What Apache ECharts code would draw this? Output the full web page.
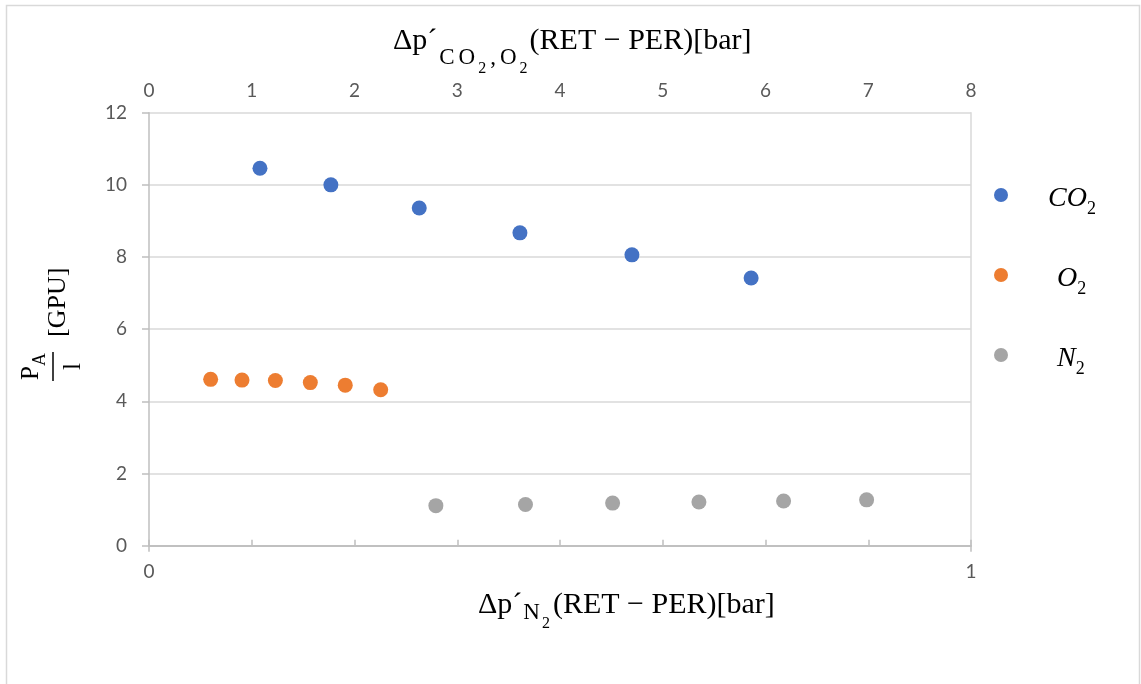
<!DOCTYPE html>
<html>
<head>
<meta charset="utf-8">
<script src="https://cdn.jsdelivr.net/npm/echarts@6/dist/echarts.min.js"></script>
<style>
html,body{margin:0;padding:0;background:#fff;}
#c{width:1141px;height:684px;}
</style>
</head>
<body>
<div id="c"></div>
<script>
// ---- data ----
const seriesNames = ['CO2', 'O2', 'N2'];
const co2X = [1.08, 1.77, 2.63, 3.61, 4.70, 5.86];
const co2Y = [10.46, 10.00, 9.36, 8.67, 8.06, 7.42];
const o2X = [0.60, 0.905, 1.23, 1.57, 1.91, 2.255];
const o2Y = [4.61, 4.59, 4.58, 4.52, 4.45, 4.32];
const n2X = [0.349, 0.458, 0.564, 0.669, 0.772, 0.873];
const n2Y = [1.11, 1.14, 1.18, 1.21, 1.24, 1.27];
const topAxisRange = [0, 8];
const bottomAxisRange = [0, 1];
const yAxisRange = [0, 12];

const colors = ['#4472C4', '#ED7D31', '#A5A5A5'];
const serif = '"Liberation Serif", "DejaVu Serif", serif';
const sans = 'Lato, "Open Sans", sans-serif';
const labelColor = '#595959';

function pairs(xs, ys) { return xs.map((x, i) => [x, ys[i]]); }

const chart = echarts.init(document.getElementById('c'), null, {renderer: 'canvas'});

function tok(size, h, pad) {
  const o = {fontFamily: serif, fontSize: size, fontWeight: 'normal', color: '#000', height: h, verticalAlign: 'top'};
  if (pad) o.padding = pad;
  return o;
}
const titleRich = {
  m: tok(30, 30),
  a: tok(30, 30),
  s: tok(23, 64, [0, 2, 0, 2]),
  ss: tok(16, 86, [0, 2, 0, 1])
};
const titleRich2 = {
  m: tok(30, 30),
  a: tok(30, 30),
  s: tok(23, 46, [0, 1, 0, 1]),
  ss: tok(16, 68, [0, 3, 0, 1])
};

const legendRich = {
  p: {width: 35, height: 80, lineHeight: 80},
  q: {width: 44, height: 80, lineHeight: 80},
  i: {fontFamily: serif, fontStyle: 'italic', fontWeight: 'normal', fontSize: 28, color: '#000', height: 73, verticalAlign: 'bottom'},
  s: {fontFamily: serif, fontWeight: 'normal', fontSize: 18, color: '#000', height: 52, verticalAlign: 'bottom'}
};

const option = {
  animation: false,
  backgroundColor: '#fff',
  title: [
    {
      text: '{m|Δp}{a|´}{s|C}{s|O}{ss|2}{s|,}{s|O}{ss|2}{m|(RET − PER)[bar]}',
      left: 393, top: 26, padding: 0,
      textStyle: {fontWeight: 'normal', rich: titleRich}
    },
    {
      text: '{m|Δp}{a|´}{s|N}{ss|2}{m|(RET − PER)[bar]}',
      left: 478, top: 590, padding: 0,
      textStyle: {fontWeight: 'normal', rich: titleRich2}
    }
  ],
  legend: {
    orient: 'vertical',
    left: 994, top: 155,
    padding: 0,
    itemGap: 0,
    itemWidth: 14, itemHeight: 14,
    icon: 'circle',
    data: seriesNames,
    formatter: function (name) {
      const lead = name === 'CO2' ? '{p|}' : '{q|}';
      return lead + '{i|' + name.slice(0, -1) + '}{s|' + name.slice(-1) + '}';
    },
    textStyle: {rich: legendRich}
  },
  grid: {left: 149, right: 170, top: 112.7, bottom: 138.3, containLabel: false},
  xAxis: [
    {
      type: 'value', position: 'top', min: topAxisRange[0], max: topAxisRange[1], interval: 1,
      axisLine: {show: true, lineStyle: {color: '#bfbfbf', width: 1.5}},
      axisTick: {show: true, inside: false, length: 6, lineStyle: {color: '#bfbfbf', width: 1.5}},
      axisLabel: {color: labelColor, fontFamily: sans, fontSize: 19, margin: 12},
      splitLine: {show: false}
    },
    {
      type: 'value', position: 'bottom', min: bottomAxisRange[0], max: bottomAxisRange[1], interval: 1,
      axisLine: {show: true, onZero: false, lineStyle: {color: '#bfbfbf', width: 1.5}},
      axisTick: {show: true, inside: false, length: 6, lineStyle: {color: '#bfbfbf', width: 1.5}},
      axisLabel: {color: labelColor, fontFamily: sans, fontSize: 19, margin: 17},
      splitLine: {show: false}
    }
  ],
  yAxis: [
    {
      type: 'value', position: 'left', min: yAxisRange[0], max: yAxisRange[1], interval: 2,
      axisLine: {show: true, onZero: false, lineStyle: {color: '#bfbfbf', width: 1.5}},
      axisTick: {show: true, inside: false, length: 7, lineStyle: {color: '#bfbfbf', width: 1.5}},
      axisLabel: {color: labelColor, fontFamily: sans, fontSize: 19, margin: 22},
      splitLine: {show: true, lineStyle: {color: '#d9d9d9', width: 1.5}}
    },
    {
      type: 'value', position: 'right', min: yAxisRange[0], max: yAxisRange[1], interval: 2,
      axisLine: {show: true, onZero: false, lineStyle: {color: '#d9d9d9', width: 1.5}},
      axisTick: {show: false},
      axisLabel: {show: false},
      splitLine: {show: false}
    }
  ],
  series: [
    {name: 'CO2', type: 'scatter', xAxisIndex: 0, yAxisIndex: 0, symbolSize: 15,
     itemStyle: {color: colors[0], opacity: 1}, data: pairs(co2X, co2Y)},
    {name: 'O2', type: 'scatter', xAxisIndex: 0, yAxisIndex: 0, symbolSize: 15,
     itemStyle: {color: colors[1], opacity: 1}, data: pairs(o2X, o2Y)},
    {name: 'N2', type: 'scatter', xAxisIndex: 1, yAxisIndex: 0, symbolSize: 15,
     itemStyle: {color: colors[2], opacity: 1}, data: pairs(n2X, n2Y)}
  ],
  graphic: [
    {
      type: 'rect', silent: true, z: -10,
      shape: {x: 6.5, y: 5.5, width: 1133, height: 700},
      style: {fill: 'none', stroke: '#d9d9d9', lineWidth: 1.5}
    },
    {
      type: 'group', x: 52, y: 335, rotation: Math.PI / 2,
      children: [
        {type: 'text', x: -45, y: -21, style: {text: 'P', font: '25px ' + serif, fill: '#000', textAlign: 'left', textVerticalAlign: 'middle'}},
        {type: 'text', x: -31, y: -12, style: {text: 'A', font: '18px ' + serif, fill: '#000', textAlign: 'left', textVerticalAlign: 'middle'}},
        {type: 'line', shape: {x1: -46, y1: 1, x2: -17, y2: 1}, style: {stroke: '#000', lineWidth: 1.5}},
        {type: 'text', x: -31.5, y: 21.5, style: {text: 'l', font: '25px ' + serif, fill: '#000', textAlign: 'center', textVerticalAlign: 'middle'}},
        {type: 'text', x: -2, y: 6.5, style: {text: '[GPU]', font: '26px ' + serif, fill: '#000', textAlign: 'left', textVerticalAlign: 'middle'}}
      ]
    }
  ]
};
chart.setOption(option);
</script>
</body>
</html>
